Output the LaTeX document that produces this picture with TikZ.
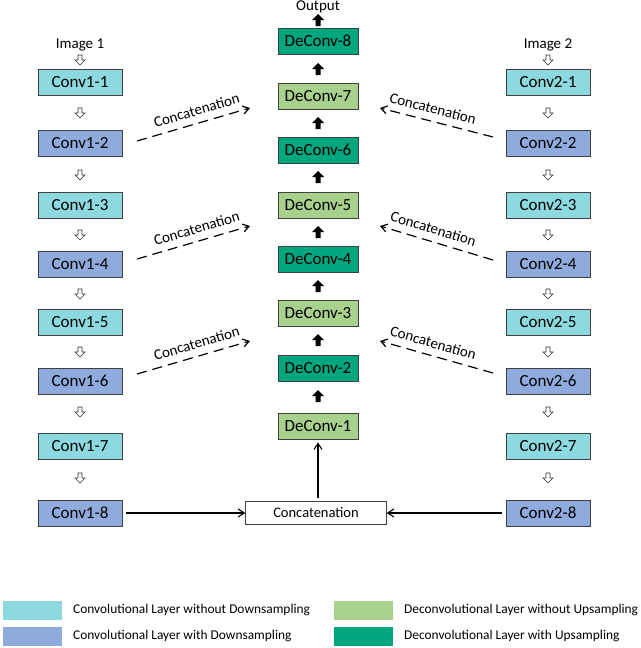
\documentclass[tikz,border=0pt]{standalone}
\usepackage{fontspec}
\setmainfont{Carlito}
\usetikzlibrary{arrows.meta}
\definecolor{ccyan}{HTML}{8DD9E0}
\definecolor{cblue}{HTML}{8FAADC}
\definecolor{cgreen}{HTML}{A9D18E}
\definecolor{cteal}{HTML}{00A67E}
\definecolor{bord}{HTML}{404040}
\begin{document}
\begin{tikzpicture}[x=1pt,y=-1pt,
  lay/.style={draw=bord,line width=0.8pt,minimum width=84pt,minimum height=26pt,inner sep=0pt,font=\fontsize{17}{17}\selectfont},
  dlay/.style={lay,minimum width=80pt},
  lab/.style={font=\fontsize{15}{15}\selectfont,inner sep=1pt},
  conc/.style={dashed,dash pattern=on 10pt off 6pt,line width=1.2pt,-{Straight Barb[length=6pt,width=8pt]}},
  clab/.style={pos=0.56,above=7pt,sloped,font=\fontsize{15}{15}\selectfont,inner sep=0pt},
  sol/.style={line width=1.1pt,-{Straight Barb[length=6pt,width=8pt]}},
  swatch/.style={draw=white,minimum width=60pt,minimum height=20pt,inner sep=0pt},
  legt/.style={font=\fontsize{13.4}{13.4}\selectfont,anchor=west,inner sep=0pt},
  hollow/.pic={\draw[line width=0.6pt,fill=white,draw=black!80] (-2,-5)--(2,-5)--(2,0)--(5,0)--(0,5)--(-5,0)--(-2,0)--cycle;},
  solidup/.pic={\fill[black] (-2.5,6)--(2.5,6)--(2.5,0)--(6,0)--(0,-6)--(-6,0)--(-2.5,0)--cycle;}
]
\useasboundingbox (0,0) rectangle (640,648);
% left column
\node[lab] (img1) at (80,45) {Image 1};
\node[lay,fill=ccyan] (c11) at (80,82) {Conv1-1};
\node[lay,fill=cblue] (c12) at (80,143) {Conv1-2};
\node[lay,fill=ccyan] (c13) at (80,205) {Conv1-3};
\node[lay,fill=cblue] (c14) at (80,264) {Conv1-4};
\node[lay,fill=ccyan] (c15) at (80,322) {Conv1-5};
\node[lay,fill=cblue] (c16) at (80,381) {Conv1-6};
\node[lay,fill=ccyan] (c17) at (80,446) {Conv1-7};
\node[lay,fill=cblue] (c18) at (80,513) {Conv1-8};
% right column
\node[lab] (img2) at (548,45) {Image 2};
\node[lay,fill=ccyan] (c21) at (548,82) {Conv2-1};
\node[lay,fill=cblue] (c22) at (548,143) {Conv2-2};
\node[lay,fill=ccyan] (c23) at (548,205) {Conv2-3};
\node[lay,fill=cblue] (c24) at (548,264) {Conv2-4};
\node[lay,fill=ccyan] (c25) at (548,322) {Conv2-5};
\node[lay,fill=cblue] (c26) at (548,381) {Conv2-6};
\node[lay,fill=ccyan] (c27) at (548,446) {Conv2-7};
\node[lay,fill=cblue] (c28) at (548,513) {Conv2-8};
% hollow arrows
\foreach \y in {60,113,175,235,294,352,412,478}{
  \pic at (80,\y) {hollow};
  \pic at (548,\y) {hollow};
}
% center column
\node[lab] (out) at (318,7) {Output};
\node[dlay,fill=cteal] (d8) at (318,41) {DeConv-8};
\node[dlay,fill=cgreen] (d7) at (318,96) {DeConv-7};
\node[dlay,fill=cteal] (d6) at (318,150) {DeConv-6};
\node[dlay,fill=cgreen] (d5) at (318,205) {DeConv-5};
\node[dlay,fill=cteal] (d4) at (318,259) {DeConv-4};
\node[dlay,fill=cgreen] (d3) at (318,313) {DeConv-3};
\node[dlay,fill=cteal] (d2) at (318,368) {DeConv-2};
\node[dlay,fill=cgreen] (d1) at (318,426) {DeConv-1};
\foreach \y in {20,69,123,177,232,286,340,396}{
  \pic at (318,\y) {solidup};
}
\node[draw=bord,line width=0.6pt,minimum width=141pt,minimum height=23pt,inner sep=0pt,font=\fontsize{14.5}{14.5}\selectfont] (cat) at (316,513) {Concatenation};
\draw[sol,shorten <=4pt] (c18.east) -- (cat.west);
\draw[sol,shorten <=4pt] (c28.west) -- (cat.east);
\draw[sol,shorten >=3pt,shorten <=3pt] (d1.south |- cat.north) -- (d1.south);
% dashed concatenations
\foreach \yl/\yr in {141/108, 259/226, 374/341}{
  \draw[conc] (137,\yl) -- (250,\yr) node[clab] {Concatenation};
}
\foreach \yl/\yr in {137/108, 260/226, 373/341}{
  \draw[conc] (493,\yl) -- (380,\yr) node[clab] {Concatenation};
}
% legend
\node[swatch,fill=ccyan] (l1) at (32,610) {};
\node[swatch,fill=cblue] (l2) at (32,636) {};
\node[swatch,fill=cgreen] (l3) at (363,610) {};
\node[swatch,fill=cteal] (l4) at (363,636) {};
\node[legt] (t1) at (73,610) {Convolutional Layer without Downsampling};
\node[legt] (t2) at (73,636) {Convolutional Layer with Downsampling};
\node[legt] (t3) at (404,610) {Deconvolutional Layer without Upsampling};
\node[legt] (t4) at (404,636) {Deconvolutional Layer with Upsampling};
\end{tikzpicture}
\end{document}
